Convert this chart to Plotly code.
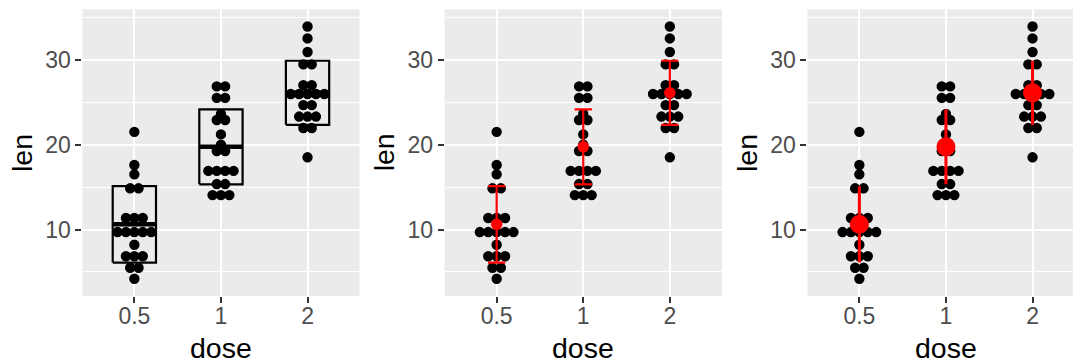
import numpy as np
import plotly.graph_objects as go

# ToothGrowth: len by dose
dose_labels = ["0.5", "1", "2"]
len_05 = [4.2, 11.5, 7.3, 5.8, 6.4, 10.0, 11.2, 11.2, 5.2, 7.0,
          15.2, 21.5, 17.6, 9.7, 14.5, 10.0, 8.2, 9.4, 16.5, 9.7]
len_1 = [16.5, 16.5, 15.2, 17.3, 22.5, 17.3, 13.6, 14.5, 18.8, 15.5,
         19.7, 23.3, 23.6, 26.4, 20.0, 25.2, 25.8, 21.2, 14.5, 27.3]
len_2 = [23.6, 18.5, 33.9, 25.5, 26.4, 32.5, 26.7, 21.5, 23.3, 29.5,
         25.5, 26.4, 22.4, 24.5, 24.8, 30.9, 26.4, 27.3, 29.4, 23.0]
groups = [len_05, len_1, len_2]

W, H = 1073, 364
FONT = "Liberation Sans, Arial, Helvetica, sans-serif"
BG = "#EBEBEB"

# panel geometry (pixels)
panels_px = [(82.4, 359.5), (444.7, 722.0), (807.4, 1084.2)]
top_px, bot_px = 9.3, 296.0

all_vals = np.concatenate(groups)
bw = (all_vals.max() - all_vals.min()) / 30
lo, hi = all_vals.min() - bw / 2, all_vals.max() + bw / 2
pad = (hi - lo) * 0.05
yrange = [lo - pad, hi + pad]

px_per_y = (bot_px - top_px) / (yrange[1] - yrange[0])
px_per_x = (panels_px[0][1] - panels_px[0][0]) / 3.2
dot_px = bw * px_per_y
dx = dot_px / px_per_x


def dotdensity(vals):
    # ggplot2 dotdensity binning, centered stacking
    v = np.sort(np.asarray(vals))
    bins = []
    end = -np.inf
    for x in v:
        if x >= end:
            bins.append([])
            end = x + bw
        bins[-1].append(x)
    xs, ys = [], []
    for b in bins:
        c = (min(b) + max(b)) / 2
        n = len(b)
        for k in range(n):
            xs.append((k - (n - 1) / 2) * dx)
            ys.append(c)
    return np.array(xs), np.array(ys)


means = [float(np.mean(g)) for g in groups]
sds = [float(np.std(g, ddof=1)) for g in groups]
pos = [1, 2, 3]

fig = go.Figure()

for p in range(3):
    xa = "x" if p == 0 else f"x{p+1}"
    ya = "y" if p == 0 else f"y{p+1}"
    # dots
    dxs, dys = [], []
    for i, g in enumerate(groups):
        ox, oy = dotdensity(g)
        dxs.extend(ox + pos[i])
        dys.extend(oy)
    fig.add_trace(go.Scatter(
        x=dxs, y=dys, mode="markers", xaxis=xa, yaxis=ya, showlegend=False,
        marker=dict(color="black", size=dot_px, line=dict(color="black", width=2)),
    ))

    if p == 0:
        # crossbar mean +/- sd
        bx, by, mx, my = [], [], [], []
        for i in range(3):
            l, r = pos[i] - 0.25, pos[i] + 0.25
            y0, y1 = means[i] - sds[i], means[i] + sds[i]
            bx += [l, r, r, l, l, None]
            by += [y0, y0, y1, y1, y0, None]
            mx += [l, r, None]
            my += [means[i], means[i], None]
        fig.add_trace(go.Scatter(x=bx, y=by, mode="lines", xaxis=xa, yaxis=ya,
                                 showlegend=False, line=dict(color="black", width=2.2)))
        fig.add_trace(go.Scatter(x=mx, y=my, mode="lines", xaxis=xa, yaxis=ya,
                                 showlegend=False, line=dict(color="black", width=4.5)))
    elif p == 1:
        fig.add_trace(go.Scatter(
            x=pos, y=means, mode="markers", xaxis=xa, yaxis=ya, showlegend=False,
            marker=dict(color="red", size=11.5),
            error_y=dict(type="data", array=sds, color="red", thickness=2.2,
                         width=0.1 * px_per_x),
        ))
    else:
        fig.add_trace(go.Scatter(
            x=pos, y=means, mode="markers", xaxis=xa, yaxis=ya, showlegend=False,
            marker=dict(color="red", size=19),
            error_y=dict(type="data", array=sds, color="red", thickness=3, width=0),
        ))

axis_common = dict(
    showline=False, zeroline=False, ticks="outside", ticklen=6, tickwidth=2,
    tickcolor="#333333", gridcolor="white", gridwidth=2,
    tickfont=dict(family=FONT, size=23, color="#4D4D4D"),
)
annotations = []
for p in range(3):
    l, r = panels_px[p]
    d0 = l / W
    d1 = min(r, W) / W
    xr = [0.4, 0.4 + (min(r, W) - l) / px_per_x]
    sx = "xaxis" if p == 0 else f"xaxis{p+1}"
    sy = "yaxis" if p == 0 else f"yaxis{p+1}"
    fig.update_layout({
        sx: dict(domain=[d0, d1], range=xr, tickvals=pos, ticktext=dose_labels,
                 anchor="y" if p == 0 else f"y{p+1}", ticklabelstandoff=-7,
                 **axis_common),
        sy: dict(domain=[1 - bot_px / H, 1 - top_px / H], range=yrange,
                 tickvals=[10, 20, 30], anchor="x" if p == 0 else f"x{p+1}",
                 minor=dict(tickvals=[5, 15, 25, 35], showgrid=True,
                            gridcolor="white", gridwidth=1, ticks=""),
                 **axis_common),
    })
    annotations.append(dict(text="len", textangle=-90, xref="paper", yref="paper",
                            x=(l - 61) / W, y=1 - (top_px + bot_px) / 2 / H,
                            xanchor="center", yanchor="middle", showarrow=False,
                            font=dict(family=FONT, size=28.5, color="black")))
    annotations.append(dict(text="dose", xref="paper", yref="paper",
                            x=(l + r) / 2 / W, y=1 - 348 / H,
                            xanchor="center", yanchor="middle", showarrow=False,
                            font=dict(family=FONT, size=28.5, color="black")))

fig.update_layout(
    width=W, height=H, margin=dict(l=0, r=0, t=0, b=0),
    paper_bgcolor="white", plot_bgcolor=BG,
    annotations=annotations, showlegend=False,
)

fig.write_html("out.html", config={"displayModeBar": False},
               post_script="document.body.style.margin='0';document.body.style.overflow='hidden';")
